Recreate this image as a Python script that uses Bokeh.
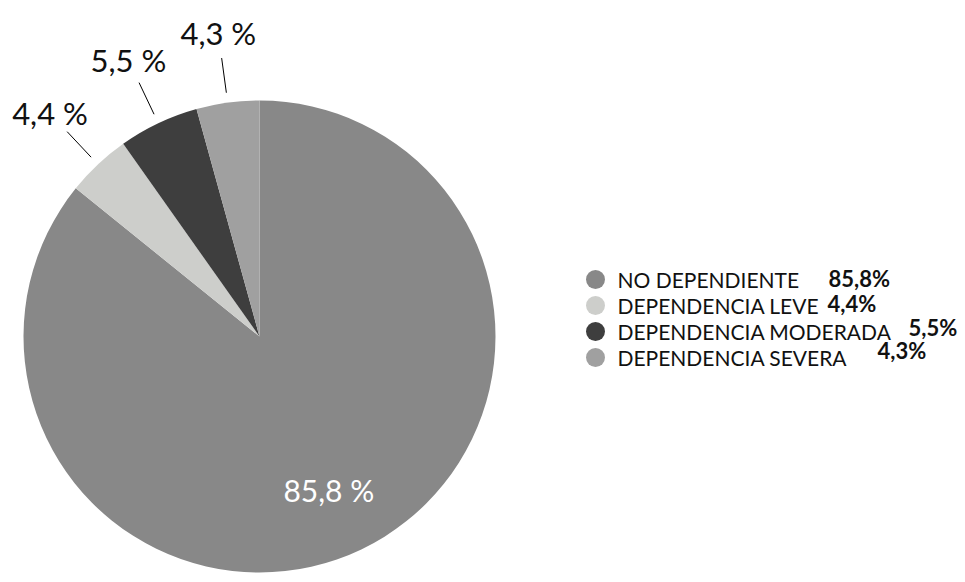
import math
from bokeh.plotting import figure
from bokeh.models import Range1d, ColumnDataSource
from bokeh.core.properties import value
from bokeh.embed import file_html
from bokeh.resources import INLINE

# ---- data ----
categories = ["NO DEPENDIENTE", "DEPENDENCIA LEVE", "DEPENDENCIA MODERADA", "DEPENDENCIA SEVERA"]
percents = [85.8, 4.4, 5.5, 4.3]
pie_labels = ["85,8 %", "4,4 %", "5,5 %", "4,3 %"]
legend_values = ["85,8%", "4,4%", "5,5%", "4,3%"]
colors = ["#888888", "#cdcecb", "#3e3e3e", "#a0a0a0"]

W, H = 965, 582
FONT = "Lato"

p = figure(width=W, height=H, output_backend="svg", toolbar_location=None,
           x_range=Range1d(0, W), y_range=Range1d(0, H), min_border=0)
p.axis.visible = False
p.grid.visible = False
p.outline_line_color = None
p.background_fill_color = "white"
p.border_fill_color = "white"

cx, cy, R = 259, 582 - 336, 236

total = sum(percents)
starts, ends, mids = [], [], []
cum = 0.0
for v in percents:
    a0 = math.pi / 2 - 2 * math.pi * cum / total
    cum += v
    a1 = math.pi / 2 - 2 * math.pi * cum / total
    starts.append(a0)
    ends.append(a1)
    mids.append((a0 + a1) / 2)

src = ColumnDataSource(dict(start=starts, end=ends, color=colors))
p.wedge(x=cx, y=cy, radius=R, start_angle="start", end_angle="end",
        direction="clock", fill_color="color", line_color=None, source=src)

# pie labels
for i, (lab, m) in enumerate(zip(pie_labels, mids)):
    if i == 0:
        r = 0.72 * R
        p.text(x=[cx + r * math.cos(m) - 4], y=[cy + r * math.sin(m)], text=[lab],
               text_font=value(FONT), text_font_size="30px", text_color="white",
               text_align="center", text_baseline="middle")
    else:
        r0, r1, rl = R + 10, R + 45, R + 70
        p.line(x=[cx + r0 * math.cos(m), cx + r1 * math.cos(m)],
               y=[cy + r0 * math.sin(m), cy + r1 * math.sin(m)],
               line_color="black", line_width=1)
        p.text(x=[cx + rl * math.cos(m)], y=[cy + rl * math.sin(m)], text=[lab],
               text_font=value(FONT), text_font_size="31px", text_color="#111111",
               text_align="center", text_baseline="middle")

# legend
leg_y = [582 - 279, 582 - 305, 582 - 331, 582 - 357]
p.scatter(x=[595] * 4, y=leg_y, size=19, marker="circle", fill_color=colors, line_color=None)
p.text(x=[617] * 4, y=leg_y, text=categories, text_font=value(FONT), text_font_size="21px",
       text_color="#111111", text_align="left", text_baseline="middle")
val_x = [828, 827, 908, 877]
val_y = [582 - 278, 582 - 303, 582 - 327, 582 - 350]
p.text(x=val_x, y=val_y, text=legend_values, text_font=value(FONT), text_font_size="22px",
       text_font_style="bold", text_color="#111111", text_align="left", text_baseline="middle")

open("out.html", "w").write(file_html(p, INLINE))
